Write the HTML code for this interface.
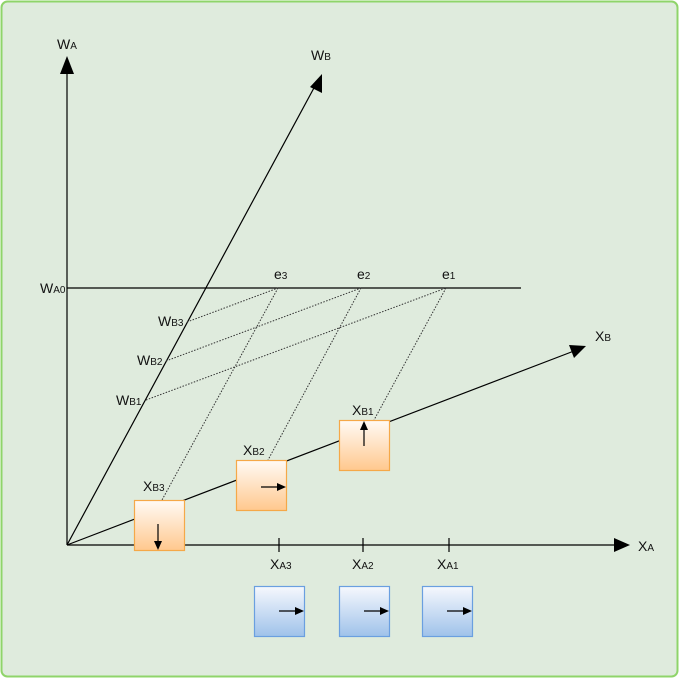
<!DOCTYPE html>
<html><head><style>html,body{margin:0;padding:0;background:#fff}svg{display:block}text{font-family:"Liberation Sans",sans-serif;fill:#111}</style></head><body>
<svg width="689" height="679" viewBox="0 0 689 679" xmlns="http://www.w3.org/2000/svg">
<defs>
<linearGradient id="og" x1="0" y1="0" x2="0" y2="1"><stop offset="0" stop-color="#fffaf5"/><stop offset="1" stop-color="#ffc88e"/></linearGradient>
<linearGradient id="bg" x1="0" y1="0" x2="0" y2="1"><stop offset="0" stop-color="#f6f8fd"/><stop offset="1" stop-color="#9fc2ea"/></linearGradient>
</defs>
<rect x="1.5" y="1.5" width="676" height="675" rx="6" fill="#dfebdd" stroke="#8fd46a" stroke-width="2"/>
<g stroke="#000" stroke-width="1.2" fill="none">
<line x1="67" y1="545" x2="67" y2="70"/>
<line x1="67" y1="545" x2="616" y2="545"/>
<line x1="67" y1="545" x2="315" y2="86"/>
<line x1="67" y1="545" x2="574" y2="351"/>
<line x1="67" y1="288" x2="521" y2="288"/>
<line x1="279" y1="538" x2="279" y2="552"/>
<line x1="363" y1="538" x2="363" y2="552"/>
<line x1="449" y1="538" x2="449" y2="552"/>
</g>
<g stroke="#333" stroke-width="1" stroke-dasharray="1.5,1.5" fill="none">
<line x1="187" y1="322" x2="278" y2="288"/>
<line x1="166" y1="361" x2="361" y2="288"/>
<line x1="146" y1="400" x2="446" y2="288"/>
<line x1="278" y1="288" x2="162" y2="500"/>
<line x1="361" y1="288" x2="268" y2="460"/>
<line x1="446" y1="288" x2="374" y2="420"/>
</g>
<g fill="#000">
<polygon points="67,56 60,74 74,74"/>
<polygon points="630,545 614,538 614,552"/>
<polygon points="322,74 310,87 322,93"/>
<polygon points="586,346 569,345 574,358"/>
</g>
<g stroke="#f5a848" stroke-width="1.2" fill="url(#og)">
<rect x="134.5" y="500.5" width="50" height="50"/>
<rect x="236.5" y="460.5" width="50" height="50"/>
<rect x="339.5" y="420.5" width="50" height="50"/>
</g>
<g stroke="#6a9fe0" stroke-width="1.2" fill="url(#bg)">
<rect x="254.5" y="586.5" width="50" height="50"/>
<rect x="339.5" y="586.5" width="50" height="50"/>
<rect x="422.5" y="586.5" width="50" height="50"/>
</g>
<g stroke="#000" stroke-width="1.2">
<line x1="158" y1="524" x2="158" y2="542"/>
<line x1="261" y1="487" x2="278" y2="487"/>
<line x1="364" y1="446" x2="364" y2="430"/>
<line x1="279" y1="611" x2="296" y2="611"/>
<line x1="364" y1="611" x2="381" y2="611"/>
<line x1="447" y1="611" x2="464" y2="611"/>
</g>
<g fill="#000">
<polygon points="158,550 154,541 162,541"/>
<polygon points="286,487 277,483 277,491"/>
<polygon points="364,421 360,430 368,430"/>
<polygon points="304,611 295,607 295,615"/>
<polygon points="389,611 380,607 380,615"/>
<polygon points="472,611 463,607 463,615"/>
</g>
<g font-size="14">
<text x="57" y="49">W<tspan font-size="10">A</tspan></text>
<text x="311" y="60">W<tspan font-size="10">B</tspan></text>
<text x="595" y="341">X<tspan font-size="10">B</tspan></text>
<text x="638" y="551">X<tspan font-size="10">A</tspan></text>
<text x="40" y="293">W<tspan font-size="10">A0</tspan></text>
<text x="274" y="279">e<tspan font-size="10">3</tspan></text>
<text x="357" y="279">e<tspan font-size="10">2</tspan></text>
<text x="442" y="279">e<tspan font-size="10">1</tspan></text>
<text x="158" y="326">W<tspan font-size="10">B3</tspan></text>
<text x="137" y="365">W<tspan font-size="10">B2</tspan></text>
<text x="116" y="405">W<tspan font-size="10">B1</tspan></text>
<text x="143" y="491">X<tspan font-size="10">B3</tspan></text>
<text x="243" y="455">X<tspan font-size="10">B2</tspan></text>
<text x="352" y="415">X<tspan font-size="10">B1</tspan></text>
<text x="270" y="569">X<tspan font-size="10">A3</tspan></text>
<text x="352" y="569">X<tspan font-size="10">A2</tspan></text>
<text x="437" y="569">X<tspan font-size="10">A1</tspan></text>
</g>
</svg>
</body></html>
